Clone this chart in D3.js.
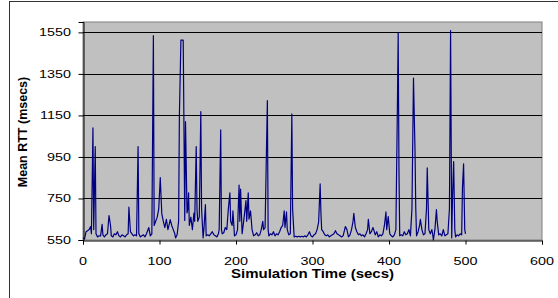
<!DOCTYPE html>
<html>
<head>
<meta charset="utf-8">
<script src="https://cdn.jsdelivr.net/npm/d3@7"></script>
<style>
  body { margin: 0; background: #fff; }
  text { font-family: "Liberation Sans", Arial, sans-serif; fill: #000; }
</style>
</head>
<body>
<div id="chart"></div>
<script>
// simulation time (secs) and mean RTT (msecs)
var simTime = [0,2,4,6,8,10,11,13,14,16,17,19,21,23,25,26,28,30,32,34,36,37,39,41,43,45,47,49,51,53,55,57,59,60,62,64,66,68,70,72,73,75,77,79,81,83,86,88,90,92,93,95,97,99,101,103,105,107,109,111,113,114,116,118,120,121,123,125,126,128,131,133,134,136,137,138,139,141,143,145,146,148,149,150,152,154,155,157,158,160,161,163,165,167,169,171,173,175,177,178,180,181,182,184,186,188,190,192,193,195,196,198,200,202,204,205,206,208,210,212,213,214,216,217,219,221,223,225,227,229,231,233,235,236,238,241,242,243,245,247,249,251,253,255,257,259,261,263,264,266,267,269,271,273,274,276,278,280,282,284,286,288,290,292,294,296,298,300,302,304,306,308,310,311,312,314,316,318,320,322,324,326,328,330,332,334,336,338,340,342,343,345,347,349,351,353,354,356,358,360,362,364,366,368,370,372,373,375,377,379,380,382,384,386,388,390,392,394,396,397,399,401,403,405,407,409,411,412,413,414,416,418,420,422,424,426,428,430,432,434,435,436,438,440,441,443,445,447,449,450,451,452,454,456,457,458,460,462,463,465,467,469,471,473,475,477,479,480.5,482,483,484.5,486,487,489,491,493,495,496,497.5,499,500];
var meanRtt = [560,555,590,595,600,615,580,1090,600,1000,580,565,570,570,625,575,565,575,580,668,620,570,565,580,575,590,570,565,575,570,565,575,580,708,590,580,570,575,570,1000,580,565,570,575,565,580,610,570,580,1534,620,640,660,700,850,677,640,610,650,600,630,648,620,600,580,560,575,640,1150,1513,1513,644,1120,680,700,777,620,660,600,680,640,1000,700,640,660,1168,700,560,600,720,570,575,570,580,590,575,570,565,580,600,1080,600,580,585,610,600,700,777,640,620,690,570,575,600,815,640,795,580,640,705,740,640,777,650,690,600,570,575,585,570,575,600,640,600,610,1221,600,570,580,575,590,570,580,575,590,610,620,690,610,685,600,575,580,1157,700,565,568,565,568,565,568,565,570,565,575,590,570,565,575,580,600,636,820,680,600,590,575,570,575,565,570,575,580,595,580,575,570,565,570,600,615,600,565,575,600,640,678,610,590,575,580,570,575,565,580,600,650,580,590,610,600,575,590,565,575,570,580,620,685,600,663,580,570,565,575,600,1200,1547,900,570,575,570,590,575,580,600,570,700,1330,980,700,570,590,620,650,600,575,580,700,897,750,600,580,600,580,550,600,697,640,575,580,570,600,570,575,580,700,1558,560,750,928,600,565,575,570,580,575,800,917,600,580];

var xTicks = [0, 100, 200, 300, 400, 500, 600];
var yTicks = [550, 750, 950, 1150, 1350, 1550];

var W = 558, H = 298;
var margin = { top: 22, left: 83, right: 16, bottom: 58 };
var width = W - margin.left - margin.right,
    height = H - margin.top - margin.bottom;

var svg = d3.select("#chart").append("svg")
  .attr("width", W)
  .attr("height", H);

// outer chart frame (only top and left edges fall inside the picture)
svg.append("rect")
  .attr("x", 9.5).attr("y", 1.5)
  .attr("width", 560).attr("height", 310)
  .attr("fill", "none")
  .attr("stroke", "#333")
  .attr("stroke-width", 1);

var g = svg.append("g")
  .attr("transform", "translate(" + margin.left + "," + margin.top + ")");

var x = d3.scaleLinear().domain([0, 600]).range([0, width]);
var y = d3.scaleLinear().domain([550, 1600]).range([height, 0]);

// plot area
g.append("rect")
  .attr("width", width).attr("height", height)
  .attr("fill", "#c0c0c0")
  .attr("stroke", "#808080");

// gridlines
g.selectAll(".grid")
  .data(yTicks.filter(function(d) { return d > 550; }))
  .enter().append("line")
  .attr("class", "grid")
  .attr("x1", 0).attr("x2", width)
  .attr("y1", function(d) { return Math.round(y(d)) + 0.5; })
  .attr("y2", function(d) { return Math.round(y(d)) + 0.5; })
  .attr("stroke", "#000");

// data line
var line = d3.line()
  .x(function(d, i) { return x(simTime[i]); })
  .y(function(d) { return y(d); });

g.append("path")
  .datum(meanRtt)
  .attr("d", line)
  .attr("fill", "none")
  .attr("stroke", "#000080")
  .attr("stroke-width", 1.2)
  .attr("stroke-linejoin", "round");

// axes
var xAxis = g.append("g")
  .attr("transform", "translate(0," + (Math.round(height) + 0.5) + ")")
  .call(d3.axisBottom(x).tickValues(xTicks).tickSize(4).tickFormat(""));
var yAxis = g.append("g")
  .attr("transform", "translate(0.5,0)")
  .call(d3.axisLeft(y).tickValues(yTicks).tickSize(5).tickFormat(""));
[xAxis, yAxis].forEach(function(a) {
  a.select(".domain").attr("stroke", "#000");
  a.selectAll(".tick line").attr("stroke", "#000");
});

// tick labels (picture is stretched a little sideways)
var sx = 1.25;
svg.selectAll(".ylab")
  .data(yTicks)
  .enter().append("text")
  .attr("class", "ylab")
  .attr("text-anchor", "end")
  .attr("font-size", 11.5)
  .attr("transform", function(d) {
    return "translate(71," + (margin.top + y(d) + 4) + ") scale(" + sx + ",1)";
  })
  .text(function(d) { return d; });

svg.selectAll(".xlab")
  .data(xTicks)
  .enter().append("text")
  .attr("class", "xlab")
  .attr("text-anchor", "middle")
  .attr("font-size", 11.5)
  .attr("transform", function(d) {
    return "translate(" + (margin.left + x(d)) + ",265) scale(" + sx + ",1)";
  })
  .text(function(d) { return d; });

svg.append("text")
  .attr("text-anchor", "middle")
  .attr("font-size", 12)
  .attr("font-weight", "bold")
  .attr("transform", "translate(" + (margin.left + width / 2) + ",278) scale(" + sx + ",1)")
  .text("Simulation Time (secs)");

svg.append("text")
  .attr("text-anchor", "middle")
  .attr("font-size", 12.5)
  .attr("font-weight", "bold")
  .attr("transform", "translate(27,132) rotate(-90)")
  .text("Mean RTT (msecs)");
</script>
</body>
</html>
